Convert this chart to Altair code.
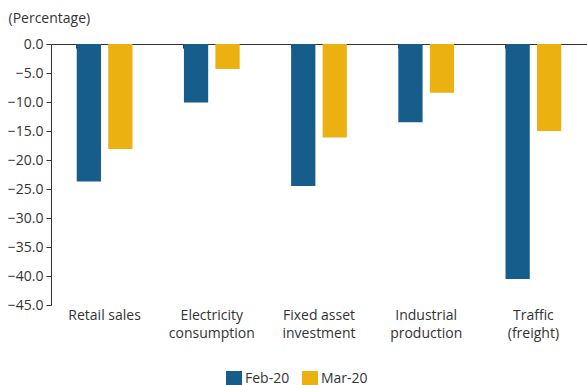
import altair as alt
import pandas as pd

categories = ["Retail sales", "Electricity|consumption", "Fixed asset|investment",
              "Industrial|production", "Traffic|(freight)"]
feb_values = [-23.7, -10.1, -24.5, -13.5, -40.5]
mar_values = [-18.1, -4.3, -16.1, -8.4, -15.0]
series = ["Feb-20", "Mar-20"]
colors = ["#165d8b", "#ebb111"]

rows = []
for c, f, m in zip(categories, feb_values, mar_values):
    rows.append({"cat": c, "series": series[0], "value": f})
    rows.append({"cat": c, "series": series[1], "value": m})
df = pd.DataFrame(rows)

FONT = "Open Sans"
FS = 14
W, H = 536, 261

xscale = alt.Scale(domain=categories, paddingInner=0.48, paddingOuter=0.24)
yscale = alt.Scale(domain=[-45, 0], nice=False)

yenc = alt.Y("value:Q", scale=yscale,
             axis=alt.Axis(values=list(range(-45, 1, 5)), format=".1f", grid=False,
                           domainColor="#333333", tickColor="#333333", tickSize=5,
                           labelFont=FONT, labelFontSize=FS, labelColor="#333333",
                           labelPadding=3,
                           title="(Percentage)", titleAngle=0, titleAlign="left",
                           titleBaseline="middle", titleX=-43, titleY=-26,
                           titleFont=FONT, titleFontSize=FS, titleFontWeight="normal",
                           titleColor="#333333"))

bars = alt.Chart(df).mark_bar().encode(
    x=alt.X("cat:N", scale=xscale, sort=categories,
            axis=alt.Axis(orient="bottom", title=None, domain=False, ticks=False,
                          labelAngle=0, labelFont=FONT, labelFontSize=FS,
                          labelColor="#333333", labelPadding=3, labelLineHeight=18,
                          labelBaseline="top",
                          labelExpr="split(datum.label, '|')")),
    xOffset=alt.XOffset("series:N", scale=alt.Scale(paddingInner=0.23, paddingOuter=0)),
    y=yenc,
    color=alt.Color("series:N", scale=alt.Scale(domain=series, range=colors),
                    legend=alt.Legend(title=None, orient="none", direction="horizontal",
                                      legendX=175, legendY=327, symbolType="square",
                                      symbolSize=256, symbolStrokeWidth=0,
                                      symbolOpacity=1, labelFont=FONT,
                                      labelFontSize=FS, labelColor="#333333",
                                      labelOffset=3, columnPadding=12)),
)

topaxis = alt.Chart(df).mark_bar(opacity=0).encode(
    x=alt.X("cat:N", scale=xscale, sort=categories,
            axis=alt.Axis(orient="bottom", offset=-H, title=None, labels=False,
                          domain=True, ticks=True, bandPosition=0, tickSize=4,
                          domainColor="#333333", tickColor="#333333")),
    y=yenc,
)

chart = alt.layer(bars, topaxis).resolve_axis(x="independent").properties(
    width=W, height=H,
    autosize=alt.AutoSizeParams(type="none"),
    padding={"left": 51, "top": 44, "right": 0, "bottom": 80},
).configure_view(stroke=None)

chart.save("out.html", embed_options={"renderer": "svg", "actions": False})
